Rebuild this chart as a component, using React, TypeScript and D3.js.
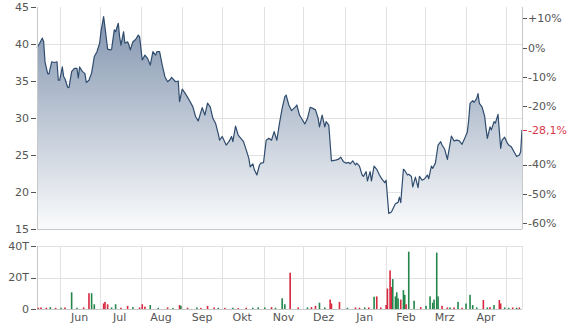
import React from "react";
import * as d3 from "d3";

// ---- price series ----
const priceDates = [
  "2023-05-15","2023-05-17","2023-05-19","2023-05-20","2023-05-21","2023-05-23","2023-05-24","2023-05-26","2023-05-28","2023-05-30","2023-05-31",
  "2023-06-01","2023-06-03","2023-06-04","2023-06-05","2023-06-07","2023-06-08","2023-06-10","2023-06-12","2023-06-14","2023-06-15","2023-06-16","2023-06-18","2023-06-20","2023-06-21","2023-06-23","2023-06-25","2023-06-27","2023-06-29",
  "2023-07-01","2023-07-02","2023-07-04","2023-07-05","2023-07-07","2023-07-09","2023-07-10","2023-07-12","2023-07-13","2023-07-15","2023-07-16","2023-07-17","2023-07-19","2023-07-20","2023-07-22","2023-07-23","2023-07-24","2023-07-26","2023-07-28","2023-07-30","2023-07-31",
  "2023-08-02","2023-08-04","2023-08-06","2023-08-08","2023-08-10","2023-08-12","2023-08-13","2023-08-15","2023-08-17","2023-08-19","2023-08-21","2023-08-23","2023-08-24","2023-08-27","2023-08-29","2023-08-30",
  "2023-09-01","2023-09-03","2023-09-06","2023-09-09","2023-09-11","2023-09-13","2023-09-16","2023-09-18","2023-09-20","2023-09-22","2023-09-24","2023-09-26","2023-09-28","2023-09-29",
  "2023-10-01","2023-10-04","2023-10-06","2023-10-08","2023-10-09","2023-10-11","2023-10-13","2023-10-15","2023-10-17","2023-10-19","2023-10-21","2023-10-22","2023-10-24","2023-10-25","2023-10-27","2023-10-29","2023-10-30",
  "2023-11-01","2023-11-03","2023-11-05","2023-11-07","2023-11-09","2023-11-11","2023-11-13","2023-11-15","2023-11-17","2023-11-18","2023-11-20","2023-11-22","2023-11-25","2023-11-26","2023-11-28","2023-11-30",
  "2023-12-02","2023-12-04","2023-12-06","2023-12-08","2023-12-10","2023-12-12","2023-12-13","2023-12-15","2023-12-17","2023-12-18","2023-12-20","2023-12-22","2023-12-25","2023-12-27","2023-12-29","2023-12-31",
  "2024-01-02","2024-01-04","2024-01-05","2024-01-07","2024-01-09","2024-01-10","2024-01-12","2024-01-14","2024-01-15","2024-01-17","2024-01-18","2024-01-20","2024-01-21","2024-01-23","2024-01-25","2024-01-27","2024-01-29","2024-01-31",
  "2024-02-01","2024-02-03","2024-02-05","2024-02-06","2024-02-08","2024-02-10","2024-02-11","2024-02-12","2024-02-14","2024-02-15","2024-02-17","2024-02-18","2024-02-20","2024-02-21","2024-02-23","2024-02-25","2024-02-26","2024-02-28",
  "2024-03-01","2024-03-03","2024-03-04","2024-03-06","2024-03-07","2024-03-09","2024-03-11","2024-03-13","2024-03-14","2024-03-16","2024-03-18","2024-03-19","2024-03-21","2024-03-23","2024-03-25","2024-03-27","2024-03-29","2024-03-31",
  "2024-04-02","2024-04-03","2024-04-04","2024-04-06","2024-04-07","2024-04-09","2024-04-10","2024-04-11","2024-04-13","2024-04-15","2024-04-16","2024-04-17","2024-04-19","2024-04-20","2024-04-22","2024-04-23","2024-04-25","2024-04-27","2024-04-28","2024-04-30",
  "2024-05-02","2024-05-03","2024-05-05","2024-05-07","2024-05-09","2024-05-11","2024-05-12","2024-05-13",
];
const prices = [
  39.5,40.1,40.8,40.3,37.6,36.0,35.95,37.6,37.5,37.6,35.1,
  35.1,36.9,35.6,35.3,34.15,34.1,36.26,36.7,36.7,35.4,36.9,36.3,36.0,34.8,35.1,36.1,38.3,38.96,
  40.1,41.66,43.7,42.3,39.3,39.2,39.3,41.9,41.66,42.8,41.0,39.86,41.66,40.1,40.3,39.86,39.2,40.3,40.6,41.2,41.0,
  37.84,38.5,38.06,37.16,38.96,38.5,38.96,38.96,37.16,35.58,34.9,35.2,35.5,34.9,35.0,32.2,
  33.9,33.4,32.5,31.5,30.2,29.6,31.4,30.4,32.0,31.5,29.96,29.3,27.9,27.0,
  27.5,26.35,26.8,27.5,26.8,28.9,27.7,27.25,26.8,25.7,24.55,23.4,23.8,23.07,22.3,23.65,23.9,
  23.96,27.0,27.25,27.0,28.15,27.0,29.3,31.3,32.9,33.1,31.76,31.0,31.5,31.76,30.4,29.8,
  29.2,29.96,31.45,31.3,31.1,29.96,28.8,30.4,28.8,29.5,29.05,24.2,24.3,24.4,24.7,24.1,
  23.9,24.0,23.8,24.2,23.65,23.9,23.5,22.3,22.1,22.75,21.5,22.75,21.5,23.5,23.07,22.3,21.7,21.26,
  21.6,17.1,17.3,17.66,18.4,18.6,19.3,18.55,23.07,22.9,22.3,22.4,22.1,20.7,22.0,20.6,22.1,21.6,
  21.8,22.3,21.8,23.5,23.2,23.9,26.35,26.8,26.35,25.77,24.4,25.45,27.57,26.9,27.0,26.9,26.45,27.25,
  28.15,29.7,31.98,32.34,32.1,32.66,33.3,31.98,31.5,30.2,28.6,27.25,28.8,28.4,29.5,29.3,30.5,25.9,27.0,27.4,
  26.6,26.35,26.1,25.45,24.8,25.0,25.45,28.4,
];

// ---- volume series (in thousands, T) ----
const volDates = [
  "2023-05-16","2023-05-18","2023-05-22","2023-05-25","2023-05-29","2023-06-02","2023-06-05","2023-06-10","2023-06-14","2023-06-19","2023-06-23","2023-06-25","2023-06-27",
  "2023-07-04","2023-07-05","2023-07-07","2023-07-10","2023-07-13","2023-07-17","2023-07-22","2023-07-26","2023-07-31",
  "2023-08-02","2023-08-04","2023-08-08","2023-08-14","2023-08-21","2023-08-25","2023-08-30","2023-08-31",
  "2023-09-05","2023-09-12","2023-09-15","2023-09-20","2023-09-25","2023-09-28",
  "2023-10-03","2023-10-09","2023-10-13","2023-10-19","2023-10-24","2023-10-28",
  "2023-11-02","2023-11-07","2023-11-10","2023-11-15","2023-11-17","2023-11-21","2023-11-27",
  "2023-12-04","2023-12-07","2023-12-10","2023-12-13","2023-12-17","2023-12-21","2023-12-22","2023-12-28",
  "2024-01-03","2024-01-09","2024-01-12","2024-01-16","2024-01-19","2024-01-23","2024-01-25","2024-01-28",
  "2024-02-01","2024-02-02","2024-02-04","2024-02-05","2024-02-06","2024-02-08","2024-02-09","2024-02-10","2024-02-12","2024-02-14","2024-02-15","2024-02-16","2024-02-18","2024-02-22","2024-02-27",
  "2024-03-02","2024-03-05","2024-03-07","2024-03-08","2024-03-10","2024-03-11","2024-03-14","2024-03-18","2024-03-20","2024-03-23","2024-03-26","2024-03-29",
  "2024-04-01","2024-04-04","2024-04-06","2024-04-09","2024-04-14","2024-04-17","2024-04-19","2024-04-22","2024-04-26","2024-04-27","2024-04-30",
  "2024-05-03","2024-05-06","2024-05-09","2024-05-11",
];
const volValues = [
  0.8,1.0,0.8,1.2,0.7,0.8,1.0,10.6,0.8,1.0,10.0,10.0,3.0,
  3.5,4.5,3.0,1.0,3.0,0.8,2.0,1.2,1.0,
  3.0,1.5,2.5,0.8,1.0,0.7,2.5,2.0,
  0.8,1.0,0.7,2.0,1.0,0.8,
  0.7,0.8,0.6,0.8,0.8,1.0,
  1.0,1.2,0.8,6.8,3.0,23.0,1.0,
  1.0,1.2,2.0,4.0,1.0,6.0,3.5,4.5,
  0.8,1.0,0.8,1.0,1.0,7.8,8.0,1.0,
  2.5,13.0,24.5,14.0,19.0,8.0,10.6,6.8,6.0,12.0,9.0,3.0,36.4,5.3,1.2,
  2.0,8.0,4.0,6.0,35.8,8.0,2.0,1.0,1.0,1.0,4.5,0.8,
  3.5,9.0,2.5,1.0,5.7,1.0,1.2,2.5,5.7,3.5,1.0,
  0.8,1.0,0.8,1.0,
];
const volUp = [
  0,0,0,1,0,1,0,1,1,0,0,1,1,
  0,0,0,1,1,0,0,1,0,
  0,0,1,1,0,1,0,1,
  0,1,0,0,0,1,
  0,1,0,0,1,1,
  1,0,1,1,1,0,0,
  1,0,0,1,1,0,0,0,
  1,0,0,1,0,1,0,0,
  0,0,0,0,1,1,1,1,0,1,1,0,1,1,0,
  1,1,1,1,1,1,0,0,1,0,1,0,
  1,1,1,1,0,1,0,1,0,0,1,
  1,0,1,0,
];

const priceTicks = [15, 20, 25, 30, 35, 40, 45];
const pctTicks = [10, 0, -10, -20, -40, -50, -60];
const volTicks = [0, 20, 40];
const monthNames = ["Jan","Feb","Mrz","Apr","Mai","Jun","Jul","Aug","Sep","Okt","Nov","Dez"];

const W = 574, H = 328;
const L = 37, R = 522;
const PT = 7, PB = 229;
const VT = 246, VB = 309;
const FONT = "'DejaVu Sans', Verdana, sans-serif";
const TXT = "#555";
const GRID = "#e2e2e2";
const AXIS = "#c8c8c8";

export default function App() {
  const parse = d3.utcParse("%Y-%m-%d");
  const data = priceDates.map((d, i) => ({ date: parse(d) as Date, v: prices[i] }));
  const vols = volDates.map((d, i) => ({ date: parse(d) as Date, v: volValues[i], up: volUp[i] === 1 }));

  const x = d3.scaleUtc().domain([parse("2023-05-15") as Date, parse("2024-05-13") as Date]).range([L, R]);
  const y = d3.scaleLinear().domain([15, 45]).range([PB, PT]);
  const yv = d3.scaleLinear().domain([0, 40]).range([VB, VT]);

  const base = prices[0];
  const last = prices[prices.length - 1];
  const pctNow = (last / base - 1) * 100;
  const pctY = (p: number) => y(base * (1 + p / 100));

  const area = d3.area<{ date: Date; v: number }>().x(d => x(d.date)).y0(PB).y1(d => y(d.v));
  const line = d3.line<{ date: Date; v: number }>().x(d => x(d.date)).y(d => y(d.v));

  const monthStarts = d3.utcMonth.range(parse("2023-06-01") as Date, parse("2024-05-02") as Date);
  const labelDates = d3.utcMonth.range(parse("2023-06-01") as Date, parse("2024-05-01") as Date).map(m => d3.utcDay.offset(m, 15));

  const fmtPct = (p: number) => (p > 0 ? "+" : "") + p + "%";

  return (
    <svg width={W} height={H} style={{ position: "absolute", left: 0, top: 0, background: "#fff" }} fontFamily={FONT} fontSize={11}>
      <defs>
        <linearGradient id="pg" gradientUnits="userSpaceOnUse" x1={0} x2={0} y1={PT} y2={PB}>
          <stop offset="0" stopColor="#7e91ac" />
          <stop offset="1" stopColor="#fafbfc" />
        </linearGradient>
      </defs>

      {/* price panel grid */}
      {priceTicks.filter(t => t > 15 && t < 45).map(t => (
        <line key={"hg" + t} x1={L} x2={R} y1={Math.round(y(t)) + 0.5} y2={Math.round(y(t)) + 0.5} stroke={GRID} />
      ))}
      {monthStarts.map((m, i) => (
        <line key={"vg" + i} x1={Math.round(x(m)) + 0.5} x2={Math.round(x(m)) + 0.5} y1={PT} y2={PB} stroke={GRID} />
      ))}

      <path d={area(data) || ""} fill="url(#pg)" />
      <path d={line(data) || ""} fill="none" stroke="#2f4c6e" strokeWidth={1.2} strokeLinejoin="round" />

      {/* price panel axes */}
      <line x1={L + 0.5} x2={L + 0.5} y1={PT} y2={PB} stroke={AXIS} />
      <line x1={R + 0.5} x2={R + 0.5} y1={PT} y2={PB} stroke={AXIS} />
      <line x1={L} x2={R} y1={PB + 0.5} y2={PB + 0.5} stroke={AXIS} />

      {priceTicks.map(t => (
        <g key={"pt" + t}>
          <line x1={31} x2={36} y1={Math.round(y(t)) + 0.5} y2={Math.round(y(t)) + 0.5} stroke={TXT} />
          <text x={29} y={y(t)} dy="0.35em" textAnchor="end" fill={TXT}>{t}</text>
        </g>
      ))}

      {pctTicks.map(p => (
        <g key={"pc" + p}>
          <line x1={523} x2={527} y1={Math.round(pctY(p)) + 0.5} y2={Math.round(pctY(p)) + 0.5} stroke={TXT} />
          <text x={528} y={pctY(p)} dy="0.35em" fill={TXT}>{fmtPct(p)}</text>
        </g>
      ))}
      <g>
        <line x1={523} x2={527} y1={Math.round(y(last)) + 0.5} y2={Math.round(y(last)) + 0.5} stroke="#d9374d" />
        <text x={528} y={y(last)} dy="0.35em" fill="#d9374d">{pctNow.toFixed(1).replace(".", ",") + "%"}</text>
      </g>

      {/* volume panel */}
      {volTicks.filter(t => t > 0).map(t => (
        <line key={"vh" + t} x1={L} x2={R} y1={Math.round(yv(t)) + 0.5} y2={Math.round(yv(t)) + 0.5} stroke={GRID} />
      ))}
      {monthStarts.map((m, i) => (
        <line key={"vv" + i} x1={Math.round(x(m)) + 0.5} x2={Math.round(x(m)) + 0.5} y1={VT} y2={VB} stroke={GRID} />
      ))}
      <line x1={L + 0.5} x2={L + 0.5} y1={VT} y2={VB} stroke={AXIS} />
      <line x1={R + 0.5} x2={R + 0.5} y1={VT} y2={VB} stroke={GRID} />

      {vols.map((d, i) => (
        <rect key={"vb" + i} x={x(d.date) - 0.8} width={1.6} y={yv(d.v)} height={VB - yv(d.v)} fill={d.up ? "#23874b" : "#d6283f"} />
      ))}
      <line x1={L} x2={R} y1={VB + 0.5} y2={VB + 0.5} stroke={AXIS} />

      {volTicks.map(t => (
        <g key={"vt" + t}>
          <line x1={31} x2={36} y1={Math.round(yv(t)) + 0.5} y2={Math.round(yv(t)) + 0.5} stroke={TXT} />
          <text x={29} y={yv(t)} dy="0.35em" textAnchor="end" fill={TXT}>{t === 0 ? "0" : t + "T"}</text>
        </g>
      ))}

      {labelDates.map((d, i) => (
        <text key={"ml" + i} x={x(d)} y={321} textAnchor="middle" fill={TXT}>{monthNames[d.getUTCMonth()]}</text>
      ))}
    </svg>
  );
}
